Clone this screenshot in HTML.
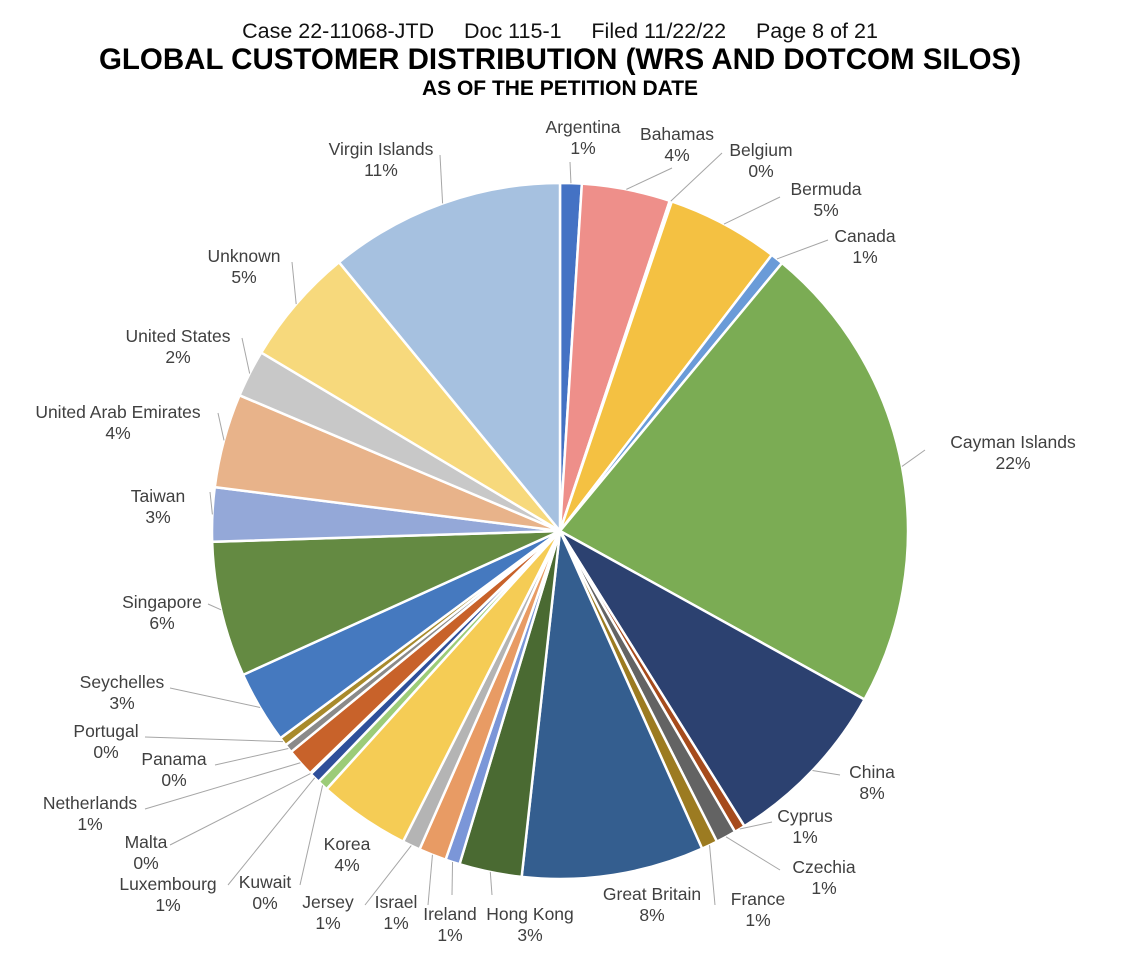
<!DOCTYPE html>
<html><head><meta charset="utf-8"><style>
body{margin:0;background:#fff;width:1144px;height:974px;overflow:hidden;font-family:"Liberation Sans",sans-serif}
svg{display:block}
</style></head><body>
<svg id="chart" width="1144" height="974" viewBox="0 0 1144 974">
<text x="560" y="38" font-size="21.5" text-anchor="middle" fill="#111" xml:space="preserve">Case 22-11068-JTD     Doc 115-1     Filed 11/22/22     Page 8 of 21</text>
<text x="560" y="69" font-size="29.5" font-weight="bold" text-anchor="middle" fill="#000">GLOBAL CUSTOMER DISTRIBUTION (WRS AND DOTCOM SILOS)</text>
<text x="560" y="95" font-size="21" font-weight="bold" text-anchor="middle" fill="#000">AS OF THE PETITION DATE</text>
<g id="slices"></g><g id="leaders"></g><g id="labels"></g>
</svg>
<script>
const categories=["Argentina","Bahamas","Belgium","Bermuda","Canada","Cayman Islands","China","Cyprus","Czechia","France","Great Britain","Hong Kong","Ireland","Israel","Jersey","Korea","Kuwait","Luxembourg","Malta","Netherlands","Panama","Portugal","Seychelles","Singapore","Taiwan","United Arab Emirates","United States","Unknown","Virgin Islands"];
const values=[1.0,4.1,0.1,5.2,0.6,22.0,8.06,0.5,0.94,0.75,8.44,2.9,0.67,1.28,0.83,4.25,0.5,0.5,0.05,1.3,0.4,0.4,3.36,6.28,2.5,4.36,2.19,5.47,10.94];
const pctLabels=["1%","4%","0%","5%","1%","22%","8%","1%","1%","1%","8%","3%","1%","1%","1%","4%","0%","1%","0%","1%","0%","0%","3%","6%","3%","4%","2%","5%","11%"];
const colors=["#4472c4","#ee8f8a","#f4c142","#f4c142","#6a9bd8","#7bac54","#2c4170","#a64b1c","#636363","#9c7b21","#345e8f","#4a6a32","#7b96d8","#e89b64","#b4b4b4","#f5cc55","#9ccc78","#2f4f9a","#888","#c8622a","#8a8a8a","#a88a2c","#4579bf","#648a42","#94a8d8","#e8b38a","#c8c8c8","#f7d97c","#a6c1e0"];
const labelPos=[[583,133],[677,140],[761,156],[826,195],[865,242],[1013,448],[872,778],[805,822],[824,873],[758,905],[652,900],[530,920],[450,920],[396,908],[328,908],[347,850],[265,888],[168,890],[146,848],[90,809],[174,765],[106,737],[122,688],[162,608],[158,502],[118,418],[178,342],[244,262],[381,155]];
const anchors=[[570,162],[672,168],[722,153],[780,197],[828,240],[925,450],[840,775],[772,822],[780,870],[715,905],null,[492,895],[452,895],[428,905],[365,905],null,[300,885],[228,885],[170,845],[145,809],[215,765],[145,737],[170,688],[208,604],[210,492],[218,413],[242,338],[292,262],[440,155]];
const cx=560,cy=531,R=348,NS="http://www.w3.org/2000/svg";
const total=values.reduce((a,b)=>a+b,0);
const pt=(a,r)=>[cx+r*Math.sin(a),cy-r*Math.cos(a)];
let acc=0;
const gS=document.getElementById('slices'),gL=document.getElementById('leaders'),gT=document.getElementById('labels');
values.forEach((v,i)=>{
  const a0=acc/total*2*Math.PI;acc+=v;const a1=acc/total*2*Math.PI;
  const p0=pt(a0,R),p1=pt(a1,R);const large=(a1-a0)>Math.PI?1:0;
  const p=document.createElementNS(NS,'path');
  p.setAttribute('d',`M${cx},${cy}L${p0[0]},${p0[1]}A${R},${R} 0 ${large} 1 ${p1[0]},${p1[1]}Z`);
  p.setAttribute('fill',colors[i]);p.setAttribute('stroke','#fff');p.setAttribute('stroke-width','2.5');
  
  
  gS.appendChild(p);
  const am=(a0+a1)/2;
  if(anchors[i]){
    const m=pt(am,R);const l=document.createElementNS(NS,'polyline');
    l.setAttribute('points',`${m[0]},${m[1]} ${anchors[i][0]},${anchors[i][1]}`);
    l.setAttribute('fill','none');l.setAttribute('stroke','#a6a6a6');l.setAttribute('stroke-width','1');
    
    
    gL.appendChild(l);
  }
  const t=document.createElementNS(NS,'text');
  t.setAttribute('x',labelPos[i][0]);t.setAttribute('y',labelPos[i][1]);
  t.setAttribute('text-anchor','middle');t.setAttribute('font-size','17.5');t.setAttribute('fill','#404040');
  
  
  const s1=document.createElementNS(NS,'tspan');s1.setAttribute('x',labelPos[i][0]);s1.textContent=categories[i];
  const s2=document.createElementNS(NS,'tspan');s2.setAttribute('x',labelPos[i][0]);s2.setAttribute('dy','21');s2.textContent=pctLabels[i];
  t.appendChild(s1);t.appendChild(s2);gT.appendChild(t);
});
</script>
</body></html>
